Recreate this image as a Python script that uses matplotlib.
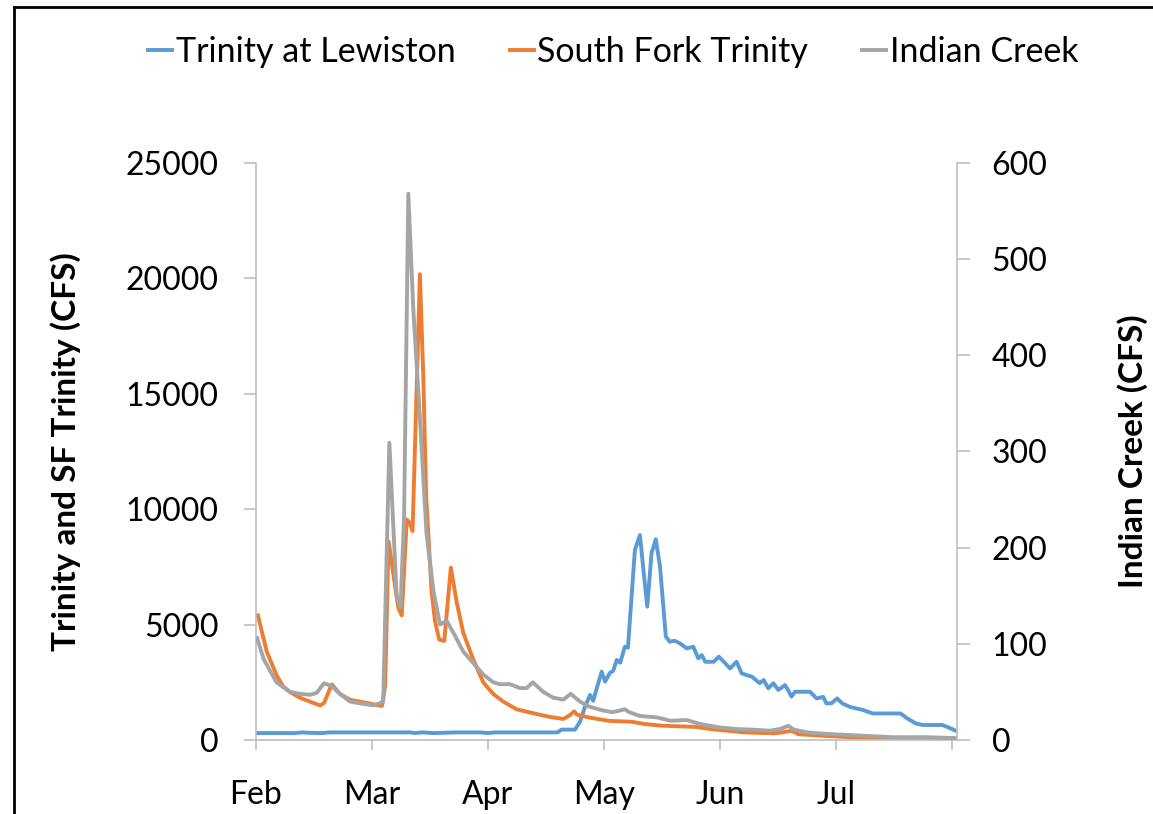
import matplotlib
matplotlib.use("Agg")
import matplotlib.pyplot as plt
from matplotlib.lines import Line2D

plt.rcParams['font.family'] = ['Lato', 'DejaVu Sans']

# days since Feb 1 and flows
lewiston_day = [0, 10, 12, 14, 17, 19, 30, 40, 41, 43, 46, 52, 58, 60, 62, 70, 78, 79, 82.5,
                83.8, 85, 86.4, 87.2, 89.4, 90.3, 91.5, 92.4, 93.3, 94.2, 95.4, 96.2, 98, 99.3,
                100, 101.2, 102.3, 103.4, 104.5, 106, 107, 108.3, 109.6, 111.4, 113.1, 114.4,
                115.3, 116.2, 118.4, 119.7, 121, 122.6, 124.3, 125.6, 126.9, 128.2, 130.3,
                131.3, 132.5, 133.8, 135.1, 136.8, 137.6, 138.5, 139.4, 143.3, 145, 146.7,
                147.5, 148.8, 150.3, 151.6, 153.5, 155.2, 157, 159.5, 166.7, 168.4, 170.6,
                172.4, 177.5, 179.3, 181]
lewiston_cfs = [300, 300, 330, 310, 300, 330, 330, 330, 300, 330, 300, 330, 330, 300, 330, 330,
                330, 450, 450, 790, 1400, 1950, 1700, 2960, 2530, 2900, 3000, 3470, 3350, 4040,
                4000, 8230, 8880, 7700, 5780, 8090, 8700, 7510, 4480, 4260, 4300, 4190, 3970,
                4040, 3540, 3680, 3390, 3390, 3610, 3390, 3100, 3390, 2890, 2810, 2750, 2460,
                2600, 2240, 2460, 2170, 2380, 2170, 1880, 2090, 2090, 1800, 1870, 1590, 1590,
                1800, 1590, 1440, 1370, 1300, 1150, 1150, 940, 720, 650, 650, 530, 400]

sf_day = [0.5, 2.8, 5.3, 7, 8.8, 11.4, 14, 16.6, 17.6, 19.6, 21.7, 24.3, 27, 29.5, 31.6, 32.6,
          33.4, 34.3, 36.8, 37.7, 39, 39.8, 40.5, 42.4, 43.3, 44, 45.4, 46.3, 47.4, 48.7, 50.4,
          51.9, 53.6, 56.2, 58.8, 61.4, 64, 67.4, 71.7, 76, 79.5, 81.2, 82.3, 83, 86, 91.2,
          97.2, 100.6, 104.9, 113.5, 117.8, 122.1, 126.4, 134.1, 136, 138.6, 140.3, 148,
          156.6, 165.2, 181]
sf_cfs = [5400, 3820, 2820, 2325, 2076, 1830, 1660, 1500, 1600, 2410, 2000, 1745, 1660, 1580,
          1500, 1480, 2325, 8600, 5730, 5400, 9550, 9400, 9050, 20180, 15600, 10600, 6480, 5150,
          4350, 4290, 7470, 5980, 4650, 3490, 2490, 1990, 1660, 1330, 1160, 1000, 910, 1080,
          1240, 1100, 980, 830, 790, 690, 620, 570, 470, 400, 330, 290, 330, 400, 250, 170,
          100, 70, 50]

ic_day = [0.3, 2, 5.3, 8.8, 11.4, 14, 15.7, 17.6, 19.6, 21.7, 24.3, 27, 30.3, 31.9, 32.9, 34.5,
          36.4, 37.4, 38.3, 39.4, 40.7, 42.4, 44.1, 45.9, 47.6, 49.3, 51, 53.6, 56.2, 58.8,
          61.4, 63, 65.7, 68.3, 70, 71.6, 74.3, 76.9, 79.5, 81.4, 83.8, 86, 89.4, 92, 93.5,
          95.4, 96.5, 99.3, 103.7, 107.2, 111.4, 114.9, 120, 124.3, 128.6, 132.9, 135.5,
          137.7, 139, 142.4, 147.5, 156.2, 164.8, 173.4, 181]
ic_cfs = [106, 84, 60, 50, 48, 47, 49, 59, 56, 48, 40, 38, 36, 38, 40, 309, 148, 138, 231, 568,
          447, 335, 215, 155, 120, 124, 112, 92, 80, 68, 60, 58, 58, 54, 54, 60, 50, 44, 42, 48,
          40, 35, 31, 29, 30, 32, 29, 25, 23.5, 20, 20.8, 16.6, 13, 11.4, 10.7, 9.7, 11.4,
          14.8, 11, 8, 6.3, 4.6, 2.9, 2.9, 2]

month_ticks = [0, 30, 60, 90, 120, 150, 180]
month_labels = ['Feb', 'Mar', 'Apr', 'May', 'Jun', 'Jul', '']

axis_grey = '#BFBFBF'

fig = plt.figure(figsize=(11.53, 8.14), dpi=100)
ax = fig.add_axes([0.222, 0.0909, 0.608, 0.7089])
ax2 = ax.twinx()

l1, = ax.plot(lewiston_day, lewiston_cfs, color='#5B9BD5', lw=2.8, label='Trinity at Lewiston')
l2, = ax.plot(sf_day, sf_cfs, color='#ED7D31', lw=2.8, label='South Fork Trinity')
l3, = ax2.plot(ic_day, ic_cfs, color='#A5A5A5', lw=2.8, label='Indian Creek')

ax.set_xlim(0, 181.3)
ax.set_ylim(0, 25000)
ax2.set_ylim(0, 600)
ax.set_yticks(range(0, 25001, 5000))
ax2.set_yticks(range(0, 601, 100))
ax.set_xticks(month_ticks)
ax.set_xticklabels(month_labels)

for a in (ax, ax2):
    for s in a.spines.values():
        s.set_color(axis_grey)
        s.set_linewidth(1.2)
    a.spines['top'].set_visible(False)
ax.spines['right'].set_visible(False)
ax2.spines['left'].set_visible(False)
ax2.spines['bottom'].set_visible(False)

ax.tick_params(axis='y', length=9, color=axis_grey, width=1.2, labelsize=23, pad=18)
ax.tick_params(axis='x', length=7, color=axis_grey, width=1.2, labelsize=23, pad=22)
ax2.tick_params(axis='y', length=9, color=axis_grey, width=1.2, labelsize=23, pad=16)

ax.set_ylabel('Trinity and SF Trinity (CFS)', fontsize=24, fontweight='bold')
ax2.set_ylabel('Indian Creek (CFS)', fontsize=24, fontweight='bold')
ax.yaxis.set_label_coords(-0.25, 0.5)
ax2.yaxis.set_label_coords(1.228, 0.5)

fig.legend(handles=[l1, l2, l3], loc='center', bbox_to_anchor=(0.532, 0.936), ncol=3,
           frameon=False, fontsize=24.5, handlelength=0.7, handletextpad=0.1, columnspacing=1.6)

# outer frame (top and left edges visible in the crop)
fig.add_artist(Line2D([0.01214, 0.01214], [0, 0.9914], color='black', lw=2, transform=fig.transFigure))
fig.add_artist(Line2D([0.01214, 1], [0.9914, 0.9914], color='black', lw=2, transform=fig.transFigure))

fig.savefig('out.png', dpi=100)
